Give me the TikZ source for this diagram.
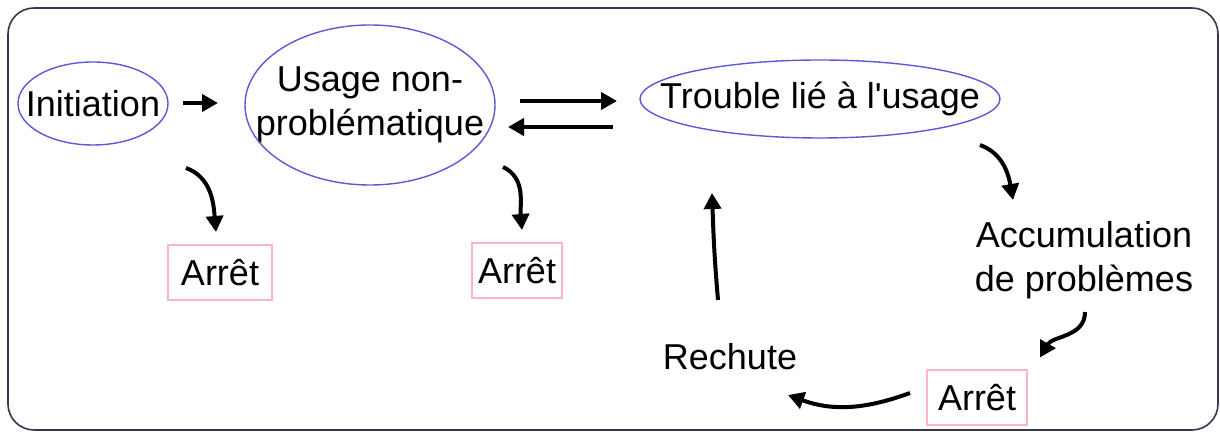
\documentclass[tikz,border=0pt]{standalone}
\usepackage{fontspec}
\setmainfont{Liberation Sans}
\usepackage{tikz}
\usetikzlibrary{shapes.geometric,arrows.meta,positioning}
\definecolor{bleuell}{RGB}{90,90,215}
\definecolor{rose}{RGB}{255,180,200}
\definecolor{cadre}{RGB}{55,55,80}

\begin{document}
\begin{tikzpicture}[x=0.5pt,y=0.5pt,
  every node/.style={font=\fontsize{18}{22}\selectfont, inner sep=0pt},
  ellbord/.style={draw=bleuell, line width=0.7pt},
  arretbox/.style={rectangle, draw=rose, line width=0.7pt, minimum width=50pt, minimum height=27.5pt},
  fl/.style={-{Triangle[length=8pt,width=8.5pt]}, line width=2pt, black}]

\useasboundingbox (0,0) rectangle (1220,432);
\draw [cadre, line width=0.8pt, rounded corners=13pt] (8,2) rectangle (1218,424);

\node (init) at (93,328.5) {Initiation};
\node (usage) [align=center] at (370,327) {Usage non-\\probl\'ematique};
\node (trouble) at (820,333) {Trouble li\'e \`a l\textquotesingle usage};
\draw [ellbord] (init) ellipse [x radius=75, y radius=41.5];
\draw [ellbord] (usage) ellipse [x radius=125, y radius=80];
\draw [ellbord] (trouble) ellipse [x radius=180, y radius=39];

\node (arret1) [arretbox, minimum width=52pt] at (220,159.5) {Arr\^et};
\node (arret2) [arretbox, minimum width=45pt] at (517,161.5) {Arr\^et};
\node (accum) [align=center] at (1084,172) {Accumulation\\de probl\`emes};
\node (arret3) [arretbox] at (977,34.5) {Arr\^et};
\node (rechute) at (730,75) {Rechute};

% fleches droites
\draw [fl] ([shift={(90,0.5)}]init.center) -- ([shift={(-152,2)}]usage.center);
\draw [fl] ([shift={(150,4)}]usage.center) -- ([shift={(-203,-2)}]trouble.center);
\draw [fl] ([shift={(-207,-28)}]trouble.center) -- ([shift={(138,-22)}]usage.center);

% fleches courbes
\draw [fl] ([shift={(93,-64.5)}]init.center) to [out=-20, in=95] ([shift={(-4,40.5)}]arret1.center);
\draw [fl] ([shift={(133,-62)}]usage.center) to [out=-25, in=95] ([shift={(5,40.5)}]arret2.center);
\draw [fl] ([shift={(160,-46)}]trouble.center) to [out=-20, in=100] ([shift={(-71,60)}]accum.center);
\draw [fl] ([shift={(1,-52)}]accum.center) to [out=-90, in=60] ([shift={(63,40)}]arret3.center);
\draw [fl] ([shift={(-67,4.5)}]arret3.center) to [out=200, in=-20] ([shift={(58,-38)}]rechute.center);
\draw [fl] ([shift={(-12,57)}]rechute.center) to [out=95, in=-88] ([shift={(-108,-94)}]trouble.center);

\end{tikzpicture}
\end{document}
